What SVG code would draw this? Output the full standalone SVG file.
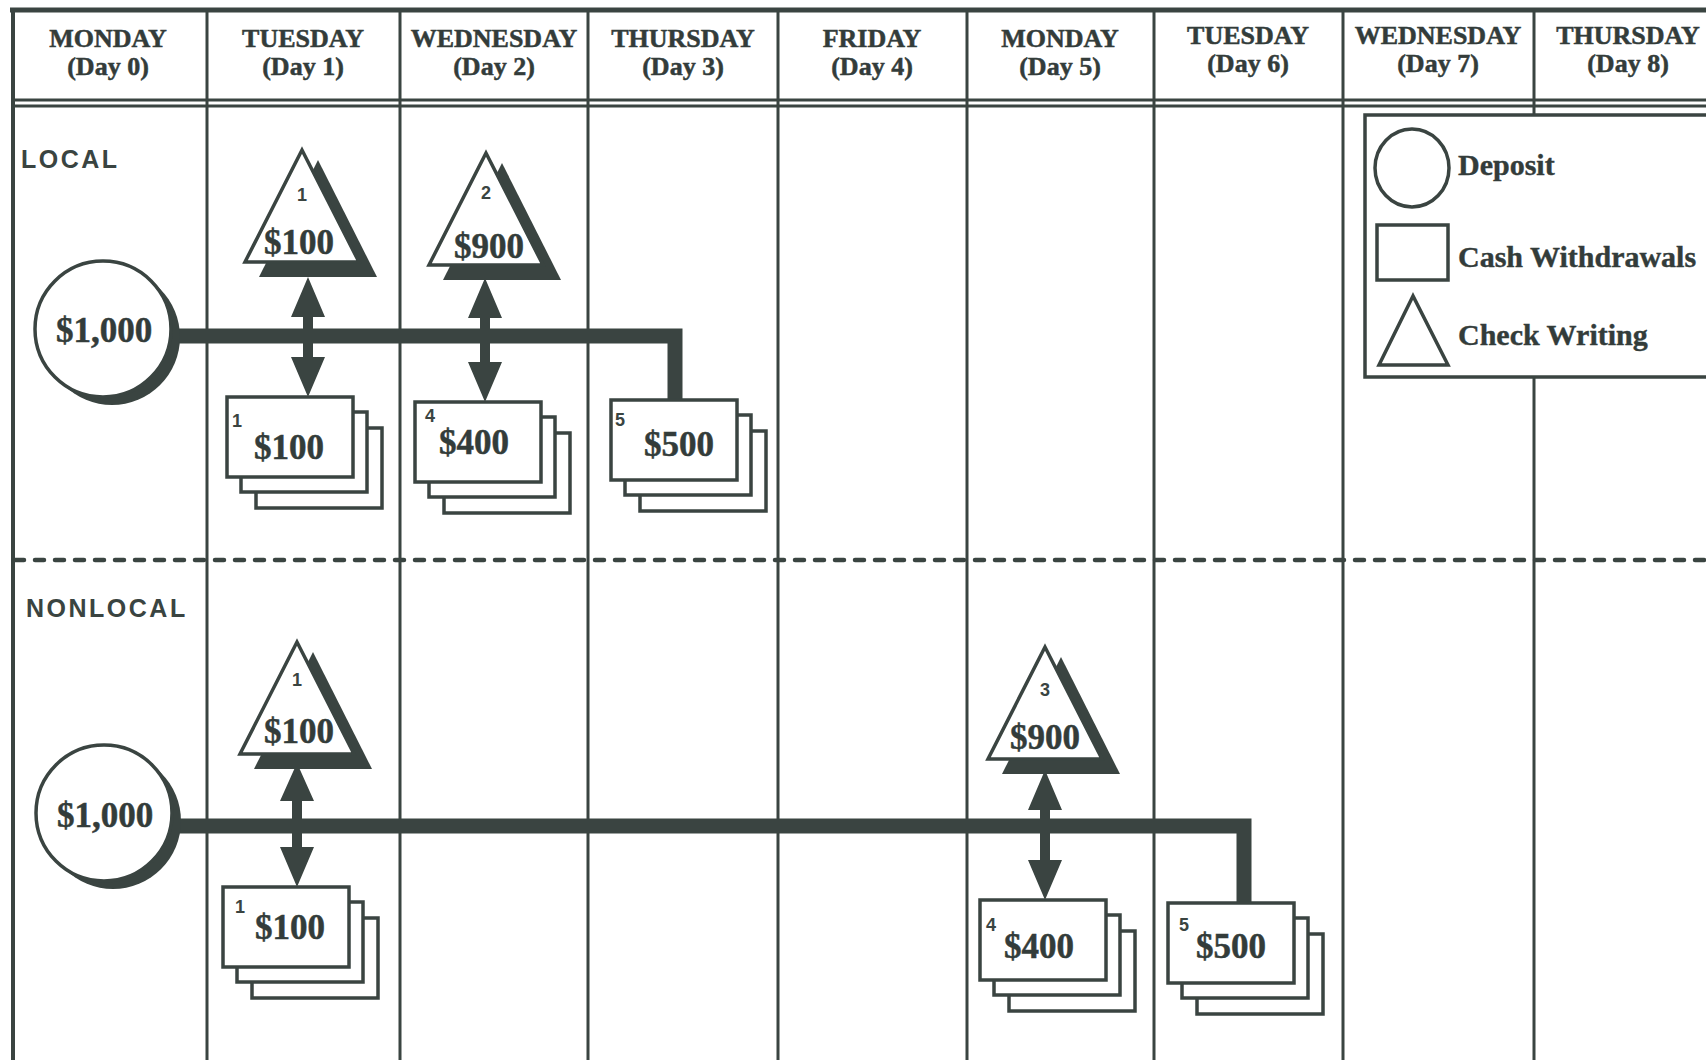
<svg xmlns="http://www.w3.org/2000/svg" xmlns:xlink="http://www.w3.org/1999/xlink" width="1706" height="1060" viewBox="0 0 1706 1060">
<style>
.ln{stroke:#3a4441;fill:none}
.hd{font-family:"Liberation Serif",serif;font-weight:bold;font-size:26px;fill:#333c3a;text-anchor:middle;stroke:#333c3a;stroke-width:0.5}
.sec{font-family:"Liberation Sans",sans-serif;font-weight:bold;font-size:25px;letter-spacing:2.5px;fill:#3a4441}
.amt{font-family:"Liberation Serif",serif;font-weight:bold;font-size:35px;fill:#333c3a;text-anchor:middle;stroke:#333c3a;stroke-width:0.5}
.big{font-family:"Liberation Serif",serif;font-weight:bold;font-size:35px;fill:#333c3a;text-anchor:middle;stroke:#333c3a;stroke-width:0.5}
.num{font-family:"Liberation Sans",sans-serif;font-weight:bold;font-size:18px;fill:#3a4441}
.numc{font-family:"Liberation Sans",sans-serif;font-weight:bold;font-size:18px;fill:#3a4441;text-anchor:middle}
.leg{font-family:"Liberation Serif",serif;font-weight:bold;font-size:30px;fill:#333c3a;stroke:#333c3a;stroke-width:0.4}
.shape{fill:#fff;stroke:#3a4441;stroke-width:3.5}
.shadow{fill:#3a4441}
.bar{stroke:#3a4441;stroke-width:15;fill:none;stroke-linejoin:miter}
.arrow{fill:#3a4441}
</style>
<defs>
<g id="check">
<polygon class="shadow" points="16,10 -43,127 75,127"/>
<polygon class="shape" points="0,0 -57,112 57,112" stroke-linejoin="miter"/>
</g>
<g id="cash">
<rect class="shape" x="29" y="31" width="126" height="80"/>
<rect class="shape" x="14" y="15" width="126" height="80"/>
<rect class="shape" x="0" y="0" width="126" height="80"/>
</g>
</defs>
<rect width="1706" height="1060" fill="#fff"/>
<g id="grid">
<line class="ln" x1="10" y1="10" x2="1706" y2="10" stroke-width="5"/>
<line class="ln" x1="13" y1="100" x2="1706" y2="100" stroke-width="3"/>
<line class="ln" x1="13" y1="106" x2="1706" y2="106" stroke-width="3"/>
<line class="ln" x1="13" y1="8" x2="13" y2="1060" stroke-width="4"/>
<line class="ln" x1="207" y1="10" x2="207" y2="1060" stroke-width="3"/>
<line class="ln" x1="400" y1="10" x2="400" y2="1060" stroke-width="3"/>
<line class="ln" x1="588" y1="10" x2="588" y2="1060" stroke-width="3"/>
<line class="ln" x1="778" y1="10" x2="778" y2="1060" stroke-width="3"/>
<line class="ln" x1="967" y1="10" x2="967" y2="1060" stroke-width="3"/>
<line class="ln" x1="1154" y1="10" x2="1154" y2="1060" stroke-width="3"/>
<line class="ln" x1="1343" y1="10" x2="1343" y2="1060" stroke-width="3"/>
<line class="ln" x1="1534" y1="10" x2="1534" y2="1060" stroke-width="3"/>
<line class="ln" x1="15" y1="560" x2="1706" y2="560" stroke-width="4.5" stroke-dasharray="9 11" stroke-linecap="round"/>
</g>
<g id="headers">
<text class="hd" x="108" y="47">MONDAY</text><text class="hd" x="108" y="75">(Day 0)</text>
<text class="hd" x="303" y="47">TUESDAY</text><text class="hd" x="303" y="75">(Day 1)</text>
<text class="hd" x="494" y="47">WEDNESDAY</text><text class="hd" x="494" y="75">(Day 2)</text>
<text class="hd" x="683" y="47">THURSDAY</text><text class="hd" x="683" y="75">(Day 3)</text>
<text class="hd" x="872" y="47">FRIDAY</text><text class="hd" x="872" y="75">(Day 4)</text>
<text class="hd" x="1060" y="47">MONDAY</text><text class="hd" x="1060" y="75">(Day 5)</text>
<text class="hd" x="1248" y="44">TUESDAY</text><text class="hd" x="1248" y="72">(Day 6)</text>
<text class="hd" x="1438" y="44">WEDNESDAY</text><text class="hd" x="1438" y="72">(Day 7)</text>
<text class="hd" x="1628" y="44">THURSDAY</text><text class="hd" x="1628" y="72">(Day 8)</text>
</g>
<text class="sec" x="21" y="168">LOCAL</text>
<text class="sec" x="26" y="617">NONLOCAL</text>
<g id="connectors">
<path class="bar" d="M165,336 H675 V401"/>
<path class="bar" d="M165,826 H1244 V904"/>
<path class="arrow" d="M308,277 L325,317 L313,317 L313,357 L325,357 L308,397 L291,357 L303,357 L303,317 L291,317 Z"/>
<path class="arrow" d="M485,278 L502,318 L490,318 L490,362 L502,362 L485,402 L468,362 L480,362 L480,318 L468,318 Z"/>
<path class="arrow" d="M297,763 L314,801 L302,801 L302,847 L314,847 L297,887 L280,847 L292,847 L292,801 L280,801 Z"/>
<path class="arrow" d="M1045,770 L1062,810 L1050,810 L1050,860 L1062,860 L1045,900 L1028,860 L1040,860 L1040,810 L1028,810 Z"/>
</g>
<g id="deposit-local">
<circle class="shadow" cx="112" cy="337" r="68"/>
<circle class="shape" cx="103" cy="329" r="68"/>
<text class="big" x="104" y="342">$1,000</text>
</g>
<g id="deposit-nonlocal">
<circle class="shadow" cx="113" cy="821" r="68"/>
<circle class="shape" cx="104" cy="813" r="68"/>
<text class="big" x="105" y="827">$1,000</text>
</g>
<g id="check-local-1">
<use xlink:href="#check" x="302" y="150"/>
<text class="numc" x="302" y="201">1</text>
<text class="amt" x="299" y="254">$100</text>
</g>
<g id="check-local-2">
<use xlink:href="#check" x="486" y="153"/>
<text class="numc" x="486" y="199">2</text>
<text class="amt" x="489" y="258">$900</text>
</g>
<g id="check-nonlocal-1">
<use xlink:href="#check" x="297" y="642"/>
<text class="numc" x="297" y="686">1</text>
<text class="amt" x="299" y="743">$100</text>
</g>
<g id="check-nonlocal-3">
<use xlink:href="#check" x="1045" y="647"/>
<text class="numc" x="1045" y="696">3</text>
<text class="amt" x="1045" y="749">$900</text>
</g>
<g id="cash-local-1">
<use xlink:href="#cash" x="227" y="397"/>
<text class="num" x="232" y="427">1</text>
<text class="amt" x="289" y="459">$100</text>
</g>
<g id="cash-local-4">
<use xlink:href="#cash" x="415" y="402"/>
<text class="num" x="425" y="422">4</text>
<text class="amt" x="474" y="454">$400</text>
</g>
<g id="cash-local-5">
<use xlink:href="#cash" x="611" y="400"/>
<text class="num" x="615" y="426">5</text>
<text class="amt" x="679" y="456">$500</text>
</g>
<g id="cash-nonlocal-1">
<use xlink:href="#cash" x="223" y="887"/>
<text class="num" x="235" y="913">1</text>
<text class="amt" x="290" y="939">$100</text>
</g>
<g id="cash-nonlocal-4">
<use xlink:href="#cash" x="980" y="900"/>
<text class="num" x="986" y="931">4</text>
<text class="amt" x="1039" y="958">$400</text>
</g>
<g id="cash-nonlocal-5">
<use xlink:href="#cash" x="1168" y="903"/>
<text class="num" x="1179" y="931">5</text>
<text class="amt" x="1231" y="958">$500</text>
</g>
<g id="legend">
<rect class="shape" x="1365" y="115" width="360" height="262"/>
<ellipse class="shape" cx="1412" cy="168" rx="37" ry="39"/>
<text class="leg" x="1458" y="175">Deposit</text>
<rect class="shape" x="1377" y="225" width="71" height="55"/>
<text class="leg" x="1458" y="267">Cash Withdrawals</text>
<polygon class="shape" points="1413,296 1379,365 1448,365"/>
<text class="leg" x="1458" y="345">Check Writing</text>
</g>
</svg>
